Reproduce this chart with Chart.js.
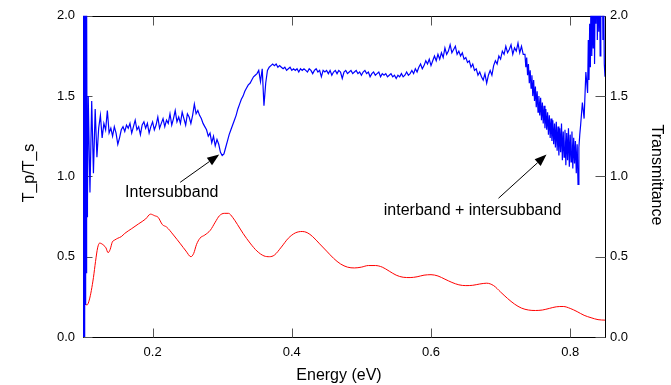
<!DOCTYPE html>
<html><head><meta charset="utf-8">
<script src="https://cdn.jsdelivr.net/npm/chart.js@4"></script>
<style>html,body{margin:0;padding:0;background:#fff;}#wrap{width:671px;height:385px;}</style>
</head><body><div id="wrap"><canvas id="c" width="671" height="385"></canvas></div>
<script>
// ---- Data: blue series (T_p/T_s, left axis) ----
const energyBlue = [
0.1,0.1004,0.1008,0.1012,0.1016,0.102,0.1024,0.1028,0.1032,0.1036,0.104,0.1044,0.1048,0.1052,0.1056,0.106,0.1064,
0.1075,0.11,0.1125, 0.115,0.1175,0.12,0.1225, 0.125,0.1275,0.13,0.1325, 0.135,0.1375,0.14,0.1425,
0.145,0.1475,0.15,0.1525, 0.155,0.1575,0.16,0.1625, 0.165,0.1675,0.17,0.1725, 0.175,0.1775,0.18,0.1825,
0.185,0.1875,0.19,0.1925, 0.195,0.1975,0.2,0.2025, 0.205,0.2075,0.21,0.2125, 0.215,0.2175,0.22,0.2225,
0.225,0.2275,0.23,0.2325, 0.235,0.2375,0.24,0.2425, 0.245,0.2475,0.25,0.2525, 0.255,0.2575,0.26,0.2625,
0.265,0.2675,0.27,0.2725, 0.275,0.2775,0.28,0.2825, 0.285,0.2875,0.29,0.2925, 0.295,0.2975,0.3,0.3025,
0.305,0.3075,0.31,0.3125, 0.315,0.3175,0.32,0.3225, 0.325,0.3275,0.33,0.3325, 0.335,0.3375,0.34,0.3425,
0.345,0.3475,0.35,0.3525, 0.355,0.3575,0.36,0.3625, 0.365,0.3675,0.37,0.3725, 0.375,0.3775,0.38,0.3825,
0.385,0.3875,0.39,0.3925, 0.395,0.3975,0.4,0.4025, 0.405,0.4075,0.41,0.4125, 0.415,0.4175,0.42,0.4225,
0.425,0.4275,0.43,0.4325, 0.435,0.4375,0.44,0.4425, 0.445,0.4475,0.45,0.4525, 0.455,0.4575,0.46,0.4625,
0.465,0.4675,0.47,0.4725, 0.475,0.4775,0.48,0.4825, 0.485,0.4875,0.49,0.4925, 0.495,0.4975,0.5,0.5025,
0.505,0.5075,0.51,0.5125, 0.515,0.5175,0.52,0.5225, 0.525,0.5275,0.53,0.5325, 0.535,0.5375,0.54,0.5425,
0.545,0.5475,0.55,0.5525, 0.555,0.5575,0.56,0.5625, 0.565,0.5675,0.57,0.5725, 0.575,0.5775,0.58,0.5825,
0.585,0.5875,0.59,0.5925, 0.595,0.5975,0.6,0.6025, 0.605,0.6075,0.61,0.6125, 0.615,0.6175,0.62,0.6225,
0.625,0.6275,0.63,0.6325, 0.635,0.6375,0.64,0.6425, 0.645,0.6475,0.65,0.6525, 0.655,0.6575,0.66,0.6625,
0.665,0.6675,0.67,0.6725, 0.675,0.6775,0.68,0.6825, 0.685,0.6875,0.69,0.6925, 0.695,0.6975,0.7,0.7025,
0.705,0.7075,0.71,0.7125, 0.715,0.7175,0.72,0.7225, 0.725,0.7275,0.73,0.7325,
0.735,0.73625,0.7375,0.73875,0.74,0.74125,0.7425,0.74375,0.745,0.74625,0.7475,0.74875,
0.75,0.75125,0.7525,0.75375,0.755,0.75625,0.7575,0.75875,0.76,0.76125,0.7625,0.76375,
0.765,0.76625,0.7675,0.76875,0.77,0.77125,0.7725,0.77375,0.775,0.77625,0.7775,0.77875,
0.78,0.78125,0.7825,0.78375,0.785,0.78625,0.7875,0.78875,0.79,0.79125,0.7925,0.79375,
0.795,0.79625,0.7975,0.79875,0.8,0.80125,0.8025,0.80375,0.805,0.80625,0.8075,0.80875,
0.81,0.81125,0.8125,0.81375,
0.815,0.8175,0.82,0.8225,
0.825,0.826,0.827,0.828,0.829,0.83,0.831,0.832,0.833,0.834,0.835,0.836,0.837,0.838,0.839,0.84,
0.841,0.842,0.843,0.844,0.845,0.846,0.847,0.848,0.849,0.85
];
const ratioTpTs = [
2.8,-0.5,2.7,-0.3,2.6,-0.1,2.5,0.1,2.4,0.2,2.3,0.4,2.2,0.6,2.1,0.75,0.85,
1.50,0.90,1.47, 1.02,1.42,1.12,1.30, 1.38,1.24,1.33,1.29, 1.41,1.27,1.30,1.25,
1.31,1.27,1.20,1.24, 1.29,1.31,1.28,1.32, 1.30,1.33,1.27,1.31, 1.35,1.29,1.31,1.26,
1.32,1.34,1.30,1.33, 1.27,1.31,1.34,1.29, 1.32,1.37,1.30,1.33, 1.36,1.31,1.35,1.33,
1.39,1.32,1.36,1.41, 1.34,1.37,1.33,1.40, 1.36,1.32,1.39,1.37, 1.33,1.38,1.45,1.39,
1.41,1.38,1.36,1.33, 1.31,1.29,1.25,1.27, 1.21,1.25,1.19,1.23, 1.20,1.15,1.13,1.14,
1.18,1.22,1.26,1.29, 1.32,1.35,1.38,1.42, 1.45,1.48,1.50,1.53, 1.55,1.57,1.58,1.60,
1.62,1.63,1.64,1.66, 1.59,1.67,1.44,1.58, 1.66,1.68,1.69,1.70, 1.69,1.70,1.68,1.69,
1.68,1.67,1.68,1.66, 1.67,1.68,1.66,1.67, 1.66,1.67,1.65,1.67, 1.66,1.67,1.66,1.65,
1.67,1.66,1.64,1.66, 1.67,1.65,1.66,1.62, 1.66,1.65,1.66,1.64, 1.66,1.63,1.65,1.66,
1.64,1.66,1.65,1.61, 1.65,1.66,1.64,1.65, 1.66,1.64,1.65,1.66, 1.64,1.65,1.63,1.65,
1.66,1.64,1.65,1.62, 1.64,1.65,1.63,1.64, 1.65,1.62,1.64,1.63, 1.64,1.62,1.63,1.64,
1.62,1.63,1.61,1.63, 1.62,1.64,1.62,1.63, 1.65,1.63,1.64,1.66, 1.64,1.67,1.65,1.68,
1.70,1.67,1.69,1.72, 1.70,1.73,1.69,1.72, 1.75,1.72,1.76,1.73, 1.77,1.74,1.80,1.76,
1.78,1.82,1.77,1.79, 1.81,1.76,1.78,1.75, 1.77,1.73,1.74,1.71, 1.72,1.68,1.70,1.66,
1.67,1.63,1.65,1.62, 1.60,1.64,1.58,1.63, 1.66,1.63,1.69,1.72, 1.70,1.75,1.73,1.78,
1.76,1.81,1.77,1.79, 1.82,1.76,1.80,1.78, 1.83,1.77,1.81,1.76,
1.76,1.68,1.74,1.63,1.70,1.58,1.66,1.55,1.63,1.50,1.60,1.47,
1.56,1.43,1.53,1.40,1.50,1.38,1.49,1.35,1.46,1.33,1.44,1.30,
1.42,1.29,1.40,1.26,1.38,1.24,1.36,1.22,1.35,1.20,1.33,1.18,
1.34,1.16,1.31,1.13,1.30,1.15,1.33,1.10,1.28,1.12,1.29,1.07,
1.27,1.10,1.30,1.06,1.26,1.09,1.28,1.05,1.24,1.08,1.22,1.02,
1.20,0.95,1.18,1.26,
1.32,1.46,1.36,1.65,
1.52,1.85,1.60,1.95,1.68,2.25,1.75,2.10,1.80,2.40,1.70,2.30,1.95,2.50,1.85,2.35,
1.90,2.60,1.75,2.30,2.00,2.45,1.85,2.20,1.70,1.62
];
// ---- Data: red series (Transmittance, right axis) ----
const energyRed = [0.1,0.103,0.106,0.109,0.112,0.115,0.118,0.121,0.124,0.127,0.13,0.133,0.136,0.139,0.142,0.146,0.15,0.155,0.16,0.17,0.18,0.19,0.197,0.203,0.208,0.214,0.22,0.23,0.24,0.248,0.255,0.259,0.263,0.268,0.275,0.283,0.29,0.296,0.303,0.309,0.315,0.322,0.33,0.34,0.35,0.36,0.368,0.375,0.385,0.395,0.405,0.415,0.422,0.43,0.44,0.45,0.46,0.47,0.48,0.49,0.5,0.51,0.52,0.53,0.54,0.55,0.56,0.57,0.58,0.59,0.6,0.61,0.62,0.63,0.64,0.65,0.66,0.67,0.68,0.69,0.7,0.71,0.72,0.73,0.74,0.75,0.76,0.77,0.78,0.79,0.8,0.81,0.82,0.83,0.84,0.85];
const transmittance = [0.22,0.205,0.20,0.23,0.29,0.37,0.47,0.555,0.585,0.58,0.57,0.555,0.525,0.545,0.59,0.605,0.615,0.625,0.645,0.675,0.705,0.735,0.765,0.755,0.745,0.70,0.685,0.635,0.58,0.535,0.50,0.52,0.575,0.615,0.635,0.665,0.715,0.755,0.77,0.77,0.745,0.70,0.645,0.585,0.535,0.505,0.50,0.51,0.56,0.615,0.648,0.657,0.65,0.625,0.58,0.535,0.49,0.455,0.435,0.43,0.435,0.445,0.445,0.435,0.41,0.385,0.372,0.37,0.375,0.385,0.388,0.38,0.36,0.34,0.325,0.32,0.322,0.33,0.335,0.32,0.28,0.24,0.205,0.18,0.168,0.165,0.168,0.178,0.188,0.19,0.178,0.158,0.135,0.12,0.108,0.105];
// ---- Ticks ----
const xTickValues = [0.2, 0.4, 0.6, 0.8];
const yTickValues = [0.0, 0.5, 1.0, 1.5, 2.0];
// ---- Annotations (data coordinates) ----
const annotationTexts = ['Intersubband', 'interband + intersubband'];
const annotationTextX = [0.2275, 0.6597];
const annotationTextY = [0.90, 0.784];
const arrowFromX = [0.2396, 0.697];
const arrowFromY = [0.963, 0.864];
const arrowToX = [0.2957, 0.766];
const arrowToY = [1.136, 1.136];

const FONT = '"Liberation Sans", Arial, sans-serif';

const decor = {
  id: 'decor',
  beforeDatasetsDraw(chart) {
    const {ctx, chartArea: a, scales} = chart;
    ctx.save();
    ctx.strokeStyle = '#000'; ctx.lineWidth = 1;
    const L = Math.round(a.left) + 0.5, R = Math.round(a.right) + 0.5, T = Math.round(a.top) + 0.5, B = Math.round(a.bottom) + 0.5;
    ctx.strokeRect(L, T, R - L, B - T);
    ctx.strokeStyle = '#555';
    ctx.beginPath();
    xTickValues.forEach(v => {
      const px = Math.round(scales.x.getPixelForValue(v)) + 0.5;
      ctx.moveTo(px, B); ctx.lineTo(px, B - 9);
      ctx.moveTo(px, T); ctx.lineTo(px, T + 9);
    });
    yTickValues.forEach(v => {
      const py = Math.round(scales.y.getPixelForValue(v)) + 0.5;
      ctx.moveTo(L, py); ctx.lineTo(L + 9, py);
      const py2 = Math.round(scales.y2.getPixelForValue(v)) + 0.5;
      ctx.moveTo(R, py2); ctx.lineTo(R - 10, py2);
    });
    ctx.stroke();
    ctx.restore();
  },
  afterDatasetsDraw(chart) {
    const {ctx, scales} = chart;
    const xs = scales.x, ys = scales.y;
    ctx.save();
    ctx.fillStyle = '#000'; ctx.strokeStyle = '#000'; ctx.lineWidth = 1;
    ctx.font = '16px ' + FONT;
    ctx.textAlign = 'center'; ctx.textBaseline = 'middle';
    annotationTexts.forEach((t, i) => {
      ctx.fillText(t, xs.getPixelForValue(annotationTextX[i]), ys.getPixelForValue(annotationTextY[i]));
      const x0 = xs.getPixelForValue(arrowFromX[i]), y0 = ys.getPixelForValue(arrowFromY[i]);
      const x1 = xs.getPixelForValue(arrowToX[i]), y1 = ys.getPixelForValue(arrowToY[i]);
      const ang = Math.atan2(y1 - y0, x1 - x0);
      const hl = 12, hw = 4.5;
      const bx = x1 - hl * Math.cos(ang), by = y1 - hl * Math.sin(ang);
      ctx.beginPath(); ctx.moveTo(x0, y0); ctx.lineTo(bx, by); ctx.stroke();
      ctx.beginPath();
      ctx.moveTo(x1, y1);
      ctx.lineTo(bx + hw * Math.sin(ang), by - hw * Math.cos(ang));
      ctx.lineTo(bx - hw * Math.sin(ang), by + hw * Math.cos(ang));
      ctx.closePath(); ctx.fill();
    });
    ctx.restore();
  },
  afterDraw(chart) {
    const ctx = chart.ctx;
    ctx.save();
    ctx.fillStyle = '#000';
    ctx.font = '16px ' + FONT;
    ctx.textAlign = 'center'; ctx.textBaseline = 'middle';
    ctx.fillText('Energy (eV)', 339, 376);
    ctx.save(); ctx.translate(30, 173); ctx.rotate(-Math.PI / 2); ctx.fillText('T_p/T_s', 0, 0); ctx.restore();
    ctx.save(); ctx.translate(656, 175); ctx.rotate(Math.PI / 2); ctx.fillText('Transmittance', 0, 0); ctx.restore();
    ctx.restore();
  }
};

const tickFont = {family: FONT, size: 13};
const fix1 = v => Number(v).toFixed(1);

new Chart(document.getElementById('c'), {
  type: 'line',
  data: {
    datasets: [
      {
        label: 'T_p/T_s',
        data: energyBlue.map((e, i) => ({x: e, y: ratioTpTs[i]})),
        borderColor: '#0000ff', borderWidth: 1.2, pointRadius: 0, tension: 0, yAxisID: 'y'
      },
      {
        label: 'Transmittance',
        data: energyRed.map((e, i) => ({x: e, y: transmittance[i]})),
        borderColor: '#ff0000', borderWidth: 1, pointRadius: 0, cubicInterpolationMode: 'monotone', yAxisID: 'y2'
      }
    ]
  },
  options: {
    responsive: false, animation: false, devicePixelRatio: 1,
    layout: {padding: {top: 13, left: 0, right: 0, bottom: 0}},
    plugins: {legend: {display: false}, tooltip: {enabled: false}},
    scales: {
      x: {
        type: 'linear', position: 'bottom', min: 0.1, max: 0.85,
        afterBuildTicks: s => { s.ticks = xTickValues.map(v => ({value: v})); },
        afterFit: s => { s.height = 48; },
        grid: {display: false, drawTicks: false}, border: {display: false},
        ticks: {padding: 8, font: tickFont, color: '#000', maxRotation: 0, autoSkip: false, callback: fix1}
      },
      y: {
        type: 'linear', position: 'left', min: 0, max: 2,
        afterBuildTicks: s => { s.ticks = yTickValues.map(v => ({value: v})); },
        afterFit: s => { s.width = 83; },
        grid: {display: false, drawTicks: false}, border: {display: false},
        ticks: {padding: 8, font: tickFont, color: '#000', callback: fix1}
      },
      y2: {
        type: 'linear', position: 'right', min: 0, max: 2,
        afterBuildTicks: s => { s.ticks = yTickValues.map(v => ({value: v})); },
        afterFit: s => { s.width = 66; },
        grid: {display: false, drawTicks: false}, border: {display: false},
        ticks: {padding: 5, font: tickFont, color: '#000', callback: fix1}
      }
    }
  },
  plugins: [decor]
});
</script>
</body></html>
